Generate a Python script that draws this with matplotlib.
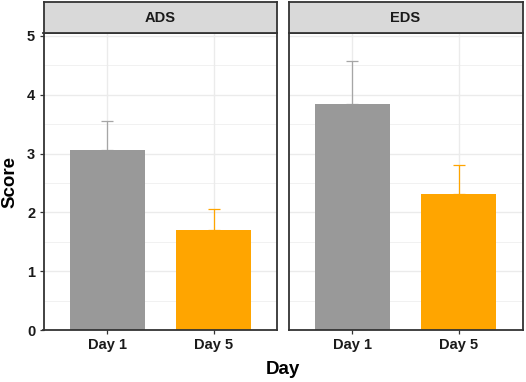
import matplotlib
matplotlib.use("Agg")
import matplotlib.pyplot as plt
import numpy as np

plt.rcParams["font.family"] = ["Liberation Sans", "DejaVu Sans"]

panels = ["ADS", "EDS"]
days = ["Day 1", "Day 5"]
means = {"ADS": [3.06, 1.70], "EDS": [3.84, 2.31]}
upper = {"ADS": [3.56, 2.05], "EDS": [4.58, 2.80]}
bar_colors = ["#999999", "#FFA500"]
err_colors = ["#A6A6A6", "#FFA500"]
y_ticks = [0, 1, 2, 3, 4, 5]

W, H = 526, 382
fig = plt.figure(figsize=(W / 100, H / 100), dpi=100)

panel_x = [(43.5, 277.5), (288.5, 522.5)]
top, bottom = 33, 330
strip_top = 2
edge = "#333333"

for i, (name, (x0, x1)) in enumerate(zip(panels, panel_x)):
    ax = fig.add_axes([x0 / W, 1 - bottom / H, (x1 - x0) / W, (bottom - top) / H])
    xs = np.arange(1, len(days) + 1)
    ax.set_xlim(0.4, 2.6)
    ax.set_ylim(0, 5.05)
    for y in np.arange(0.5, 5.1, 0.5):
        lw = 1.0 if float(y).is_integer() else 0.5
        ax.axhline(y, color="#EBEBEB", lw=lw, zorder=0)
    for x in xs:
        ax.axvline(x, color="#EBEBEB", lw=1.0, zorder=0)
    ax.bar(xs, means[name], width=0.7, color=bar_colors, zorder=2)
    for x, m, u, c in zip(xs, means[name], upper[name], err_colors):
        ax.errorbar([x], [m], yerr=[[0], [u - m]], fmt="none", ecolor=c,
                    elinewidth=0.9, capsize=4.5, capthick=0.9, zorder=1)
    ax.set_xticks(xs)
    ax.set_xticklabels(days, fontsize=10.5, fontweight="bold", color="#1A1A1A")
    ax.set_yticks(y_ticks)
    ax.tick_params(axis="both", direction="out", length=3, width=0.9,
                   color=edge, pad=3)
    if i == 0:
        ax.set_yticklabels([str(t) for t in y_ticks], fontsize=10.5,
                           fontweight="bold", color="#1A1A1A")
        ax.set_ylabel("Score", fontsize=13.5, fontweight="bold", labelpad=6)
    else:
        ax.tick_params(axis="y", length=0, labelleft=False)
    for s in ax.spines.values():
        s.set_color(edge)
        s.set_linewidth(1.3)

    sax = fig.add_axes([x0 / W, 1 - top / H, (x1 - x0) / W, (top - strip_top) / H])
    sax.set_facecolor("#D9D9D9")
    sax.set_xticks([])
    sax.set_yticks([])
    for s in sax.spines.values():
        s.set_color(edge)
        s.set_linewidth(1.3)
    sax.text(0.5, 0.5, name, ha="center", va="center", fontsize=10.5,
             fontweight="bold", color="#1A1A1A", transform=sax.transAxes)

fig.text((43.5 + 522.5) / 2 / W, 1 - 369 / H, "Day", ha="center", va="center",
         fontsize=13.5, fontweight="bold")

fig.savefig("out.png", dpi=100)
